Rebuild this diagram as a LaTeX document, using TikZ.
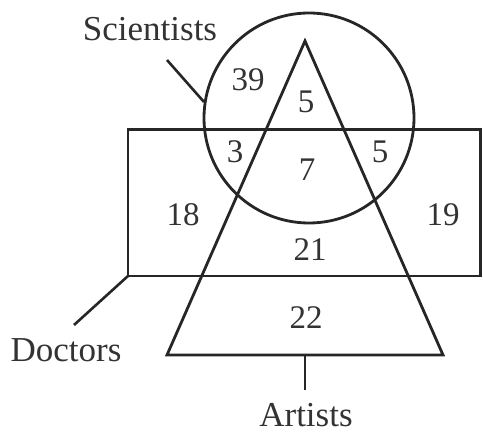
\documentclass[tikz,border=0pt]{standalone}
\usepackage{fontspec}
\setmainfont{Liberation Serif}
\begin{document}
\begin{tikzpicture}[x=1pt,y=-1pt,
  shape line/.style={draw=black!85, line width=2.8pt},
  lead/.style={draw=black!85, line width=2.6pt},
  num/.style={font=\fontsize{33}{33}\selectfont, text=black!80, inner sep=0pt},
  lbl/.style={font=\fontsize{35}{35}\selectfont, text=black!80, inner sep=0pt}]
\useasboundingbox (0,0) rectangle (483,435);
% shapes
\node[shape line, circle, minimum size=210pt, inner sep=0pt] (sci) at (309,118) {};
\draw[shape line] (128,129.5) rectangle (480.5,276);
\coordinate (rectBL) at (128,276);
\coordinate (apex) at (305,41);
\coordinate (baseL) at (167,355);
\coordinate (baseR) at (443,355);
\coordinate (baseM) at (305,355);
\draw[shape line, line join=miter] (apex) -- (baseL) -- (baseR) -- cycle;
% labels
\node[lbl] (scil) at (150,29) {Scientists};
\node[lbl] (docl) at (66,350) {Doctors};
\node[lbl] (artl) at (306,415) {Artists};
\coordinate (sciEnd) at (167,60);
\coordinate (sciOn) at (204,102);
\coordinate (docEnd) at (74,325);
\coordinate (artEnd) at (305,390);
\draw[lead] (sciEnd) -- (sciOn);
\draw[lead] (rectBL) -- (docEnd);
\draw[lead] (baseM) -- (artEnd);
% numbers
\node[num] (n39) at (248,80) {39};
\node[num] (n5a) at (306,102) {5};
\node[num] (n3) at (235,152) {3};
\node[num] (n7) at (307,170) {7};
\node[num] (n5b) at (380,152) {5};
\node[num] (n18) at (183,215) {18};
\node[num] (n19) at (443,215) {19};
\node[num] (n21) at (310,250) {21};
\node[num] (n22) at (306,318) {22};
\end{tikzpicture}
\end{document}
